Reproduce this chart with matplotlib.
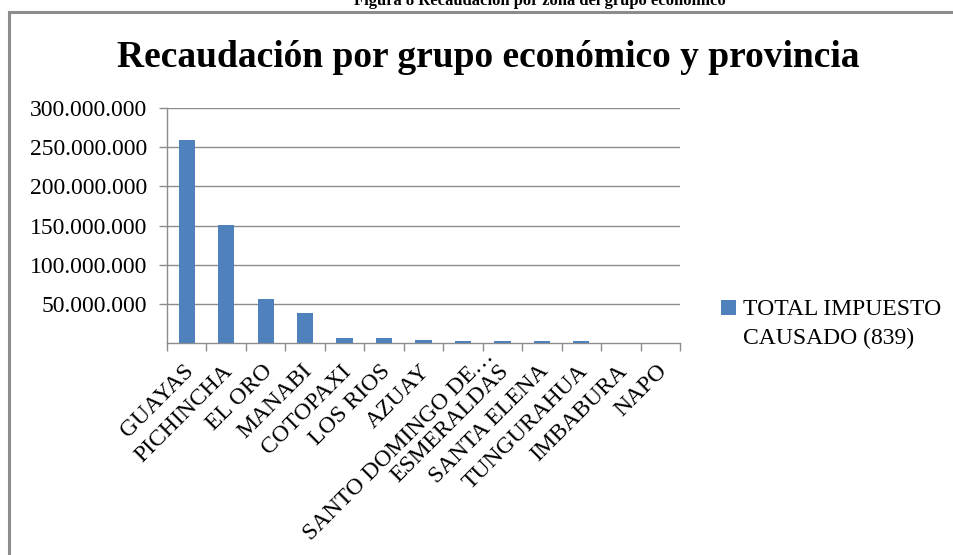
import matplotlib
matplotlib.use('Agg')
import matplotlib.pyplot as plt
from matplotlib.patches import Rectangle
from matplotlib.ticker import FuncFormatter, FixedLocator
from matplotlib.transforms import ScaledTranslation
import numpy as np

provincias = ["GUAYAS", "PICHINCHA", "EL ORO", "MANABI", "COTOPAXI", "LOS RIOS",
              "AZUAY", "SANTO DOMINGO DE…", "ESMERALDAS", "SANTA ELENA",
              "TUNGURAHUA", "IMBABURA", "NAPO"]
impuesto = [259000000, 151000000, 56500000, 38500000, 7000000, 6000000,
            4000000, 2200000, 2000000, 2000000, 2000000, 300000, 100000]
serie = "TOTAL IMPUESTO\nCAUSADO (839)"
y_ticks = [50000000, 100000000, 150000000, 200000000, 250000000, 300000000]

plt.rcParams['font.family'] = ['Liberation Serif', 'DejaVu Serif']

W, H = 954, 555
fig = plt.figure(figsize=(W / 100, H / 100), dpi=100)

# outer frame of the embedded chart
fig.patches.append(Rectangle((9 / W, -0.1), 1.2, 1 - 12 / H + 0.1,
                             transform=fig.transFigure, fill=False,
                             edgecolor='#8c8c8c', linewidth=2.2))

fig.text(540 / W, 1 - 5 / H, "Figura 8 Recaudación por zona del grupo económico",
         ha='center', va='baseline', fontsize=12, fontweight='bold')
fig.text(488 / W, 1 - 57 / H, "Recaudación por grupo económico y provincia",
         ha='center', va='center', fontsize=27, fontweight='bold')

ax = fig.add_axes([167 / W, 1 - 343 / H, (680 - 167) / W, (343 - 108) / H])
x = np.arange(len(provincias))
ax.bar(x, impuesto, width=0.41, color='#4F81BD', label=serie, zorder=3)

ax.set_xlim(-0.5, len(provincias) - 0.5)
ax.set_ylim(0, 300000000)
ax.set_yticks(y_ticks)
ax.yaxis.set_major_formatter(FuncFormatter(lambda v, p: f"{int(v):,}".replace(",", ".")))
ax.grid(axis='y', color='#8c8c8c', linewidth=1.0, zorder=0)

ax.set_xticks(x)
ax.set_xticklabels(provincias, rotation=45, ha='right', rotation_mode='anchor', fontsize=17)
ax.tick_params(axis='x', which='major', length=0, pad=14)
ax.xaxis.set_minor_locator(FixedLocator(np.arange(-0.5, len(provincias), 1.0)))
ax.tick_params(axis='x', which='minor', length=6, color='#8c8c8c', width=1)
ax.tick_params(axis='y', length=6, color='#8c8c8c', width=1, labelsize=17, pad=8)

# Excel lines the rotated labels up on the last letter; the "…" hangs past it
for lbl in ax.get_xticklabels():
    dx, dy = -4, 2
    if lbl.get_text().endswith("…"):
        dx, dy = 20, 16
    lbl.set_transform(lbl.get_transform() + ScaledTranslation(dx / 100, dy / 100, fig.dpi_scale_trans))

for s in ['top', 'right']:
    ax.spines[s].set_visible(False)
for s in ['left', 'bottom']:
    ax.spines[s].set_color('#8c8c8c')
    ax.spines[s].set_linewidth(1.0)

leg = ax.legend(loc='center left', bbox_to_anchor=(712 / W, 1 - 324 / H),
                bbox_transform=fig.transFigure, frameon=False, fontsize=17,
                handlelength=0.6, handleheight=0.6, handletextpad=0.3,
                borderaxespad=0)
for t in leg.get_texts():
    t.set_linespacing(1.45)
# put the marker level with the first line, as in the source
h = leg.legend_handles[0]
h.set_y(h.get_y() + 12)

fig.savefig("out.png", dpi=100)
